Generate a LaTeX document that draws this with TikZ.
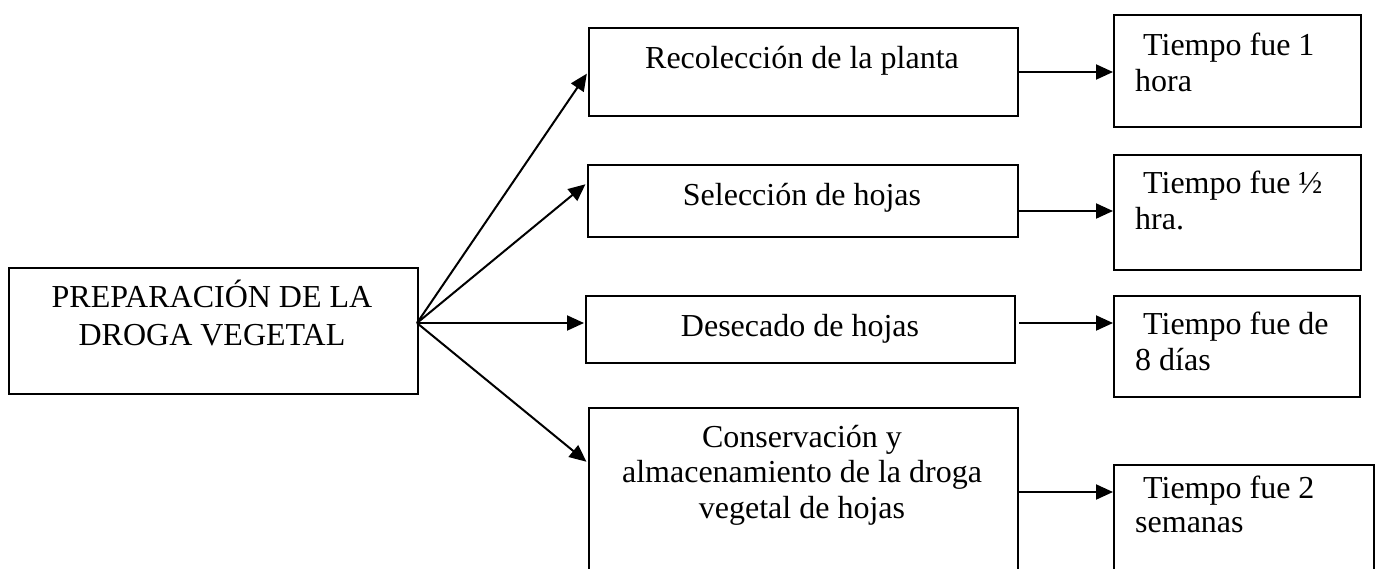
\documentclass[tikz,border=0pt]{standalone}
\usepackage{fontspec}
\setmainfont{Liberation Serif}
\usetikzlibrary{arrows.meta}
\begin{document}
\begin{tikzpicture}[x=1pt,y=-1pt,
  box/.style={draw, line width=2pt, inner sep=0, anchor=north west},
  txt/.style={inner sep=0, font=\fontsize{32}{36}\selectfont},
  arr/.style={line width=2pt, -{Triangle[length=17pt,width=15pt]}}]
\useasboundingbox (0,0) rectangle (1379,568);
% boxes
\node[box, minimum width=409pt, minimum height=126pt] (L) at (8,267) {};
\node[box, minimum width=429pt, minimum height=88pt] (b1) at (588,27) {};
\node[box, minimum width=430pt, minimum height=72pt] (b2) at (587,164) {};
\node[box, minimum width=429pt, minimum height=67pt] (b3) at (585,295) {};
\node[box, minimum width=429pt, minimum height=170pt] (b4) at (588,407) {};
\node[box, minimum width=247pt, minimum height=112pt] (r1) at (1113,14) {};
\node[box, minimum width=247pt, minimum height=115pt] (r2) at (1113,154) {};
\node[box, minimum width=246pt, minimum height=101pt] (r3) at (1113,295) {};
\node[box, minimum width=260pt, minimum height=120pt] (r4) at (1113,464) {};
% texts (multi-line nodes: base = last line)
\node[txt, align=center, anchor=base, font=\fontsize{32}{38}\selectfont] (tL) at (212,345) {PREPARACIÓN DE LA\\DROGA VEGETAL};
\node[txt, anchor=base] (t1) at (802,68) {Recolección de la planta};
\node[txt, anchor=base] (t2) at (802,205) {Selección de hojas};
\node[txt, anchor=base] (t3) at (800,336) {Desecado de hojas};
\node[txt, align=center, anchor=base, font=\fontsize{32}{35.5}\selectfont] (t4) at (802,518) {Conservación y\\almacenamiento de la droga\\vegetal de hojas};
\node[txt, align=left, anchor=base west] (u1) at (1135,91) {\hspace*{8pt}Tiempo fue 1\\hora};
\node[txt, align=left, anchor=base west] (u2) at (1135,229) {\hspace*{8pt}Tiempo fue ½\\hra.};
\node[txt, align=left, anchor=base west] (u3) at (1135,370) {\hspace*{8pt}Tiempo fue de\\8 días};
\node[txt, align=left, anchor=base west, font=\fontsize{32}{34}\selectfont] (u4) at (1135,532) {\hspace*{8pt}Tiempo fue 2\\semanas};
% connectors
\coordinate (src) at (417,323);
\draw[arr, shorten >=2pt] (src) -- (b1.west);
\draw[arr, shorten >=2pt] (src) -- ([yshift=-19pt]b2.north west);
\draw[arr, shorten >=1pt] (src) -- (b3.west |- src);
\draw[arr, shorten >=2pt] (src) -- ([yshift=-56pt]b4.north west);
\draw[arr] (b1.east) -- (b1.east -| r1.west);
\draw[arr] ([yshift=-10pt]b2.east) -- ([yshift=-10pt]b2.east -| r2.west);
\draw[arr] ([xshift=3pt]b3.east |- src) -- (r3.west |- src);
\draw[arr] ([yshift=-85pt]b4.north east) -- ([yshift=-85pt]b4.north east -| r4.west);
\end{tikzpicture}
\end{document}
